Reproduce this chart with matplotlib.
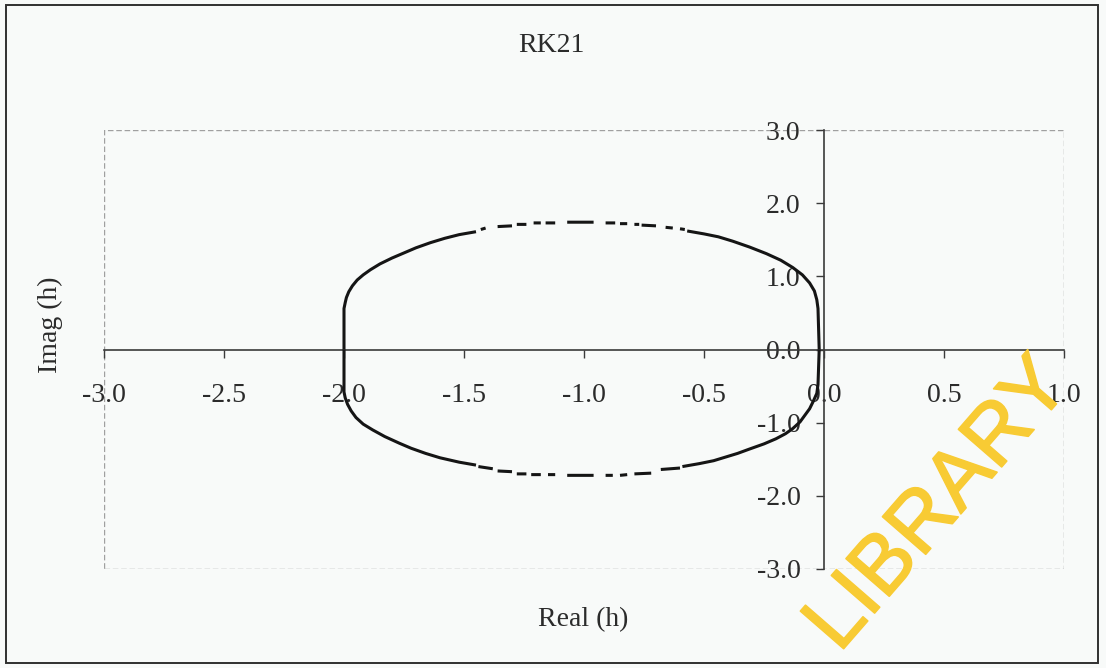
import numpy as np
import matplotlib
matplotlib.use("Agg")
import matplotlib.pyplot as plt
import matplotlib.patheffects as pe
from matplotlib.patches import Rectangle
from matplotlib.ticker import FormatStrFormatter, MultipleLocator

nan = np.nan

# Stability-region boundary points (gaps = nan)
upper_real = [-2.00, -2.00, -1.995, -1.99, -1.98, -1.965, -1.945, -1.92, -1.89, -1.85, -1.80, -1.75,
              -1.70, -1.64, -1.58, -1.52, -1.45,
              nan, -1.43, -1.41, nan, -1.36, -1.30, nan, -1.28, -1.24, nan, -1.21, -1.18, nan,
              -1.16, -1.12, nan, -1.07, -0.96, nan, -0.91, -0.87, nan, -0.85, -0.82, nan, -0.79, -0.77,
              nan, -0.76, -0.70, nan, -0.66, -0.63, nan, -0.60, -0.58, nan,
              -0.57, -0.50, -0.44, -0.38, -0.31, -0.24, -0.18, -0.13, -0.09, -0.06, -0.04, -0.03,
              -0.025, -0.02]
upper_imag = [0.00, 0.56, 0.64, 0.71, 0.79, 0.87, 0.95, 1.02, 1.09, 1.17, 1.25, 1.32,
              1.39, 1.46, 1.52, 1.57, 1.61,
              nan, 1.64, 1.66, nan, 1.68, 1.69, nan, 1.71, 1.71, nan, 1.73, 1.73, nan,
              1.73, 1.73, nan, 1.74, 1.74, nan, 1.73, 1.73, nan, 1.72, 1.72, nan, 1.71, 1.71,
              nan, 1.70, 1.69, nan, 1.67, 1.66, nan, 1.65, 1.64, nan,
              1.62, 1.58, 1.54, 1.48, 1.40, 1.31, 1.22, 1.12, 1.02, 0.91, 0.80, 0.68,
              0.56, 0.00]

lower_real = [-2.00, -2.00, -1.995, -1.985, -1.97, -1.95, -1.92, -1.88, -1.83, -1.77, -1.72,
              -1.66, -1.60, -1.52, -1.45,
              nan, -1.44, -1.38, nan, -1.36, -1.30, nan, -1.28, -1.24, nan, -1.22, -1.18, nan,
              -1.15, -1.12, nan, -1.07, -0.96, nan, -0.91, -0.88, nan, -0.85, -0.82, nan,
              -0.79, -0.72, nan, -0.68, -0.60, nan,
              -0.59, -0.52, -0.46, -0.41, -0.36, -0.31, -0.25, -0.20, -0.16, -0.13, -0.10,
              -0.08, -0.06, -0.045, -0.03, -0.025, -0.02]
lower_imag = [0.00, -0.58, -0.66, -0.75, -0.84, -0.93, -1.02, -1.10, -1.19, -1.28, -1.35,
              -1.42, -1.48, -1.54, -1.58,
              nan, -1.60, -1.63, nan, -1.66, -1.67, nan, -1.70, -1.70, nan, -1.71, -1.71, nan,
              -1.71, -1.71, nan, -1.72, -1.72, nan, -1.72, -1.72, nan, -1.72, -1.71, nan,
              -1.70, -1.69, nan, -1.64, -1.62, nan,
              -1.60, -1.56, -1.52, -1.47, -1.42, -1.36, -1.29, -1.22, -1.15, -1.08, -0.99,
              -0.90, -0.81, -0.71, -0.60, -0.48, 0.00]

title = "RK21"
x_label = "Real (h)"
y_label = "Imag (h)"
watermark = "LIBRARY"

W, H = 1106, 668
bg = "#f8faf9"
txt = "#2b2b2b"
serif = ["Liberation Serif", "DejaVu Serif"]
wm_color = "#f8cb34"

fig = plt.figure(figsize=(W / 100, H / 100), dpi=100, facecolor=bg)

# outer chart border
fig.add_artist(Rectangle((6 / W, 1 - 663 / H), 1092 / W, 658 / H, transform=fig.transFigure,
                         fill=False, ec="#303030", lw=1.4))

ax = fig.add_axes([104 / W, 1 - 569 / H, 960 / W, 439 / H])
ax.set_facecolor(bg)
ax.set_xlim(-3, 1)
ax.set_ylim(-3, 3)

for s in ["top", "right"]:
    ax.spines[s].set_visible(False)
ax.spines["left"].set_position(("data", 0))
ax.spines["bottom"].set_position(("data", 0))
for s in ["left", "bottom"]:
    ax.spines[s].set_color("#3a3a3a")
    ax.spines[s].set_linewidth(1.2)

# dotted plot-area border
ax.add_patch(Rectangle((0, 0), 1, 1, transform=ax.transAxes, fill=False,
                       ec="#a0a0a0", lw=1.0, ls=(0, (4, 2)), zorder=0))

ax.xaxis.set_major_locator(MultipleLocator(0.5))
ax.yaxis.set_major_locator(MultipleLocator(1.0))
ax.xaxis.set_major_formatter(FormatStrFormatter("%.1f"))
ax.yaxis.set_major_formatter(FormatStrFormatter("%.1f"))
ax.tick_params(axis="x", direction="out", length=6, width=1.0, color="#3a3a3a", pad=18,
               labelsize=20, labelcolor=txt)
ax.tick_params(axis="y", direction="out", length=6, width=1.0, color="#3a3a3a", pad=11,
               labelsize=20, labelcolor=txt)
for lab in ax.get_xticklabels() + ax.get_yticklabels():
    lab.set_family(serif)

ax.plot(upper_real, upper_imag, color="#151515", lw=2.2, solid_capstyle="butt",
        solid_joinstyle="round", zorder=3)
ax.plot(lower_real, lower_imag, color="#151515", lw=2.2, solid_capstyle="butt",
        solid_joinstyle="round", zorder=3)

fig.text(551 / W, 1 - 46 / H, title, ha="center", va="center", fontsize=20, color=txt, family=serif)
fig.text(583 / W, 1 - 620 / H, x_label, ha="center", va="center", fontsize=20, color=txt, family=serif)
fig.text(50 / W, 1 - 325 / H, y_label, ha="center", va="center", rotation=90, fontsize=20,
         color=txt, family=serif)

fig.text(852 / W, 1 - 665 / H, watermark, rotation=49, rotation_mode="anchor", ha="left",
         va="bottom", fontsize=60, color=wm_color,
         family=["Liberation Sans", "DejaVu Sans"], zorder=10,
         path_effects=[pe.Stroke(linewidth=1.2, foreground=wm_color), pe.Normal()])

fig.savefig("out.png", dpi=100, facecolor=bg)
